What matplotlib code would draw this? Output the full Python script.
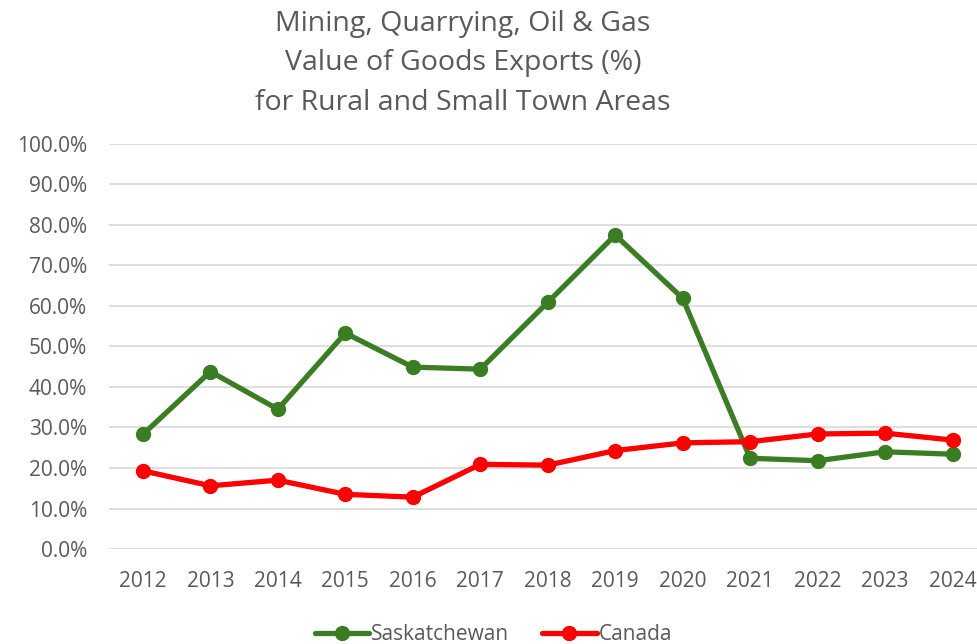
import numpy as np
import matplotlib.pyplot as plt

years = ['2012', '2013', '2014', '2015', '2016', '2017', '2018',
         '2019', '2020', '2021', '2022', '2023', '2024']
saskatchewan = [28.3, 43.8, 34.5, 53.3, 44.9, 44.4, 60.9,
                77.5, 61.9, 22.4, 21.8, 24.0, 23.4]
canada = [19.3, 15.6, 17.0, 13.5, 12.8, 20.9, 20.7,
          24.3, 26.2, 26.5, 28.4, 28.6, 26.9]

plt.rcParams['font.family'] = ['Open Sans', 'DejaVu Sans']
grey = '#595959'

fig = plt.figure(figsize=(9.77, 6.44), dpi=100)
ax = fig.add_axes([0.1118, 0.1475, 0.8977, 0.629])

x = np.arange(len(years))
ax.plot(x, saskatchewan, color='#3B7D23', linewidth=3.8, marker='o',
        markersize=10, label='Saskatchewan', solid_capstyle='round')
ax.plot(x, canada, color='#FF0000', linewidth=3.8, marker='o',
        markersize=10, label='Canada', solid_capstyle='round')

ax.set_xlim(-0.5, len(years) - 0.5)
ax.set_ylim(0, 100)
ax.set_xticks(x)
ax.set_xticklabels(years)
ax.set_yticks(np.arange(0, 101, 10))
ax.set_yticklabels([f'{v:.1f}%' for v in range(0, 101, 10)])
ax.tick_params(axis='both', length=0, colors=grey, labelsize=15)
ax.tick_params(axis='y', pad=16)
ax.tick_params(axis='x', pad=16)
ax.grid(axis='y', color='#D9D9D9', linewidth=1.2)
ax.set_axisbelow(True)
for s in ax.spines.values():
    s.set_visible(False)

fig.text(0.474, 0.985, 'Mining, Quarrying, Oil & Gas\nValue of Goods Exports (%)\nfor Rural and Small Town Areas',
         ha='center', va='top', fontsize=20.5, color=grey, linespacing=1.55)

fig.legend(loc='center', bbox_to_anchor=(0.505, 0.014), ncol=2, frameon=False,
           fontsize=15, labelcolor=grey, handlelength=2.6, columnspacing=1.6,
           handletextpad=0.1)

fig.savefig('out.png', dpi=100)
